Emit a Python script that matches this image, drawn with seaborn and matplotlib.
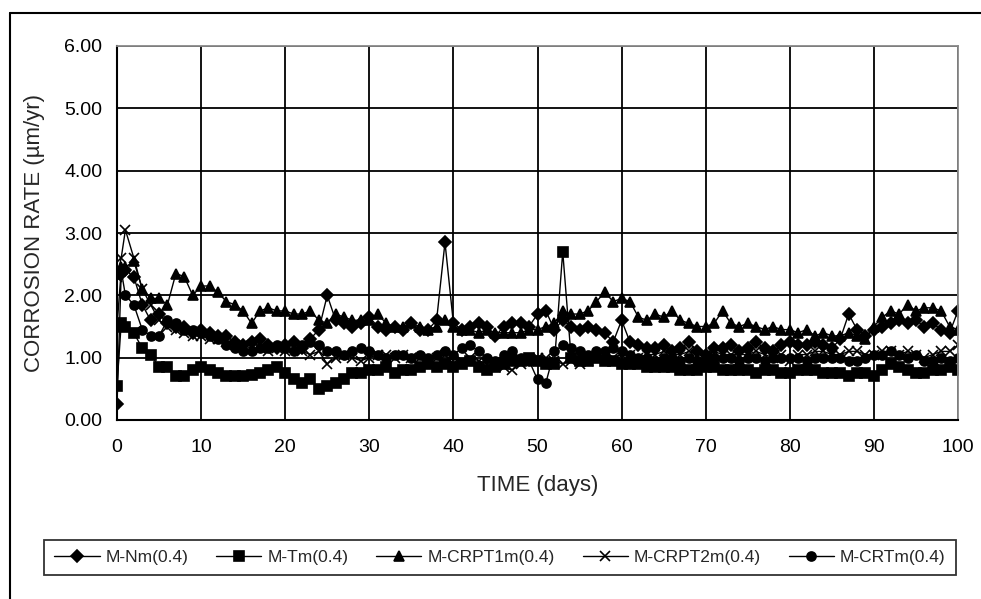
import matplotlib
matplotlib.use("Agg")
import matplotlib.pyplot as plt
import seaborn as sns
from matplotlib.lines import Line2D

# Dados (taxa de corrosão, µm/ano)
days = [0, 0.5] + list(range(1, 101))

m_nm = [0.25, 2.35, 2.40, 2.30, 1.85, 1.60, 1.70, 1.55, 1.50, 1.50, 1.40,
        1.45, 1.40, 1.35, 1.35, 1.25, 1.20, 1.25, 1.30, 1.20, 1.15,
        1.20, 1.25, 1.15, 1.30, 1.45, 2.00, 1.60, 1.55, 1.50, 1.55,
        1.65, 1.50, 1.45, 1.50, 1.45, 1.55, 1.45, 1.45, 1.60, 2.85,
        1.55, 1.45, 1.50, 1.55, 1.50, 1.35, 1.50, 1.55, 1.55, 1.50,
        1.70, 1.75, 1.45, 1.60, 1.50, 1.45, 1.50, 1.45, 1.40, 1.25,
        1.60, 1.25, 1.20, 1.15, 1.15, 1.20, 1.10, 1.15, 1.25, 1.10,
        1.05, 1.15, 1.15, 1.20, 1.10, 1.15, 1.25, 1.15, 1.10, 1.20,
        1.25, 1.20, 1.20, 1.25, 1.20, 1.15, 1.30, 1.70, 1.45, 1.35,
        1.45, 1.50, 1.55, 1.60, 1.55, 1.60, 1.50, 1.55, 1.45, 1.40,
        1.75]

m_tm = [0.55, 1.55, 1.50, 1.40, 1.15, 1.05, 0.85, 0.85, 0.70, 0.70, 0.80,
        0.85, 0.80, 0.75, 0.70, 0.70, 0.70, 0.72, 0.75, 0.80, 0.85,
        0.75, 0.65, 0.60, 0.65, 0.50, 0.55, 0.60, 0.65, 0.75, 0.75,
        0.80, 0.80, 0.85, 0.75, 0.80, 0.80, 0.85, 0.90, 0.85, 0.90,
        0.85, 0.90, 0.95, 0.85, 0.80, 0.85, 0.90, 0.95, 0.95, 1.00,
        0.95, 0.90, 0.90, 2.70, 1.00, 0.95, 0.95, 1.00, 0.95, 0.95,
        0.90, 0.90, 0.90, 0.85, 0.85, 0.85, 0.85, 0.80, 0.80, 0.80,
        0.85, 0.85, 0.80, 0.80, 0.80, 0.80, 0.75, 0.80, 0.80, 0.75,
        0.75, 0.80, 0.80, 0.80, 0.75, 0.75, 0.75, 0.70, 0.75, 0.75,
        0.70, 0.80, 0.90, 0.85, 0.80, 0.75, 0.75, 0.80, 0.80, 0.85,
        0.80]

m_crpt1 = [2.35, 2.45, 2.45, 2.55, 2.10, 1.95, 1.95, 1.85, 2.35, 2.30, 2.00,
           2.15, 2.15, 2.05, 1.90, 1.85, 1.75, 1.55, 1.75, 1.80, 1.75,
           1.75, 1.70, 1.70, 1.75, 1.60, 1.55, 1.70, 1.65, 1.60, 1.60,
           1.60, 1.70, 1.55, 1.50, 1.50, 1.55, 1.50, 1.45, 1.50, 1.60,
           1.50, 1.45, 1.45, 1.40, 1.45, 1.40, 1.40, 1.40, 1.40, 1.45,
           1.45, 1.50, 1.55, 1.75, 1.70, 1.70, 1.75, 1.90, 2.05, 1.90,
           1.95, 1.90, 1.65, 1.60, 1.70, 1.65, 1.75, 1.60, 1.55, 1.50,
           1.50, 1.55, 1.75, 1.55, 1.50, 1.55, 1.50, 1.45, 1.50, 1.45,
           1.45, 1.40, 1.45, 1.35, 1.40, 1.35, 1.35, 1.40, 1.35, 1.30,
           1.50, 1.65, 1.75, 1.70, 1.85, 1.75, 1.80, 1.80, 1.75, 1.50,
           1.45]

m_crpt2 = [2.30, 2.60, 3.05, 2.60, 2.10, 1.85, 1.60, 1.50, 1.45, 1.40, 1.35,
           1.35, 1.30, 1.30, 1.25, 1.20, 1.20, 1.15, 1.15, 1.10, 1.15,
           1.10, 1.15, 1.10, 1.05, 1.10, 0.90, 1.00, 1.05, 1.00, 0.95,
           1.00, 1.05, 1.05, 1.00, 1.05, 1.00, 1.00, 0.95, 1.00, 1.05,
           0.90, 0.95, 1.00, 0.95, 0.90, 0.90, 0.85, 0.80, 0.90, 0.95,
           1.00, 1.00, 0.95, 0.90, 0.95, 0.90, 0.95, 1.00, 1.05, 1.00,
           1.05, 1.05, 1.00, 1.05, 1.05, 1.10, 1.05, 1.05, 1.10, 1.05,
           1.05, 1.10, 1.05, 1.05, 1.05, 1.05, 1.10, 1.05, 1.00, 1.05,
           0.95, 1.05, 1.05, 1.10, 1.10, 1.05, 1.05, 1.10, 1.10, 1.05,
           1.05, 1.10, 1.10, 1.05, 1.10, 1.05, 1.00, 1.05, 1.10, 1.10,
           1.20]

m_crt = [1.50, 2.40, 2.00, 1.85, 1.45, 1.35, 1.35, 1.60, 1.55, 1.45, 1.45,
         1.40, 1.35, 1.30, 1.20, 1.15, 1.10, 1.10, 1.15, 1.15, 1.20,
         1.15, 1.10, 1.20, 1.25, 1.20, 1.10, 1.10, 1.05, 1.10, 1.15,
         1.10, 1.05, 1.00, 1.05, 1.05, 1.00, 1.05, 1.00, 1.05, 1.10,
         1.05, 1.15, 1.20, 1.10, 1.00, 0.95, 1.05, 1.10, 1.00, 0.95,
         0.65, 0.60, 1.10, 1.20, 1.15, 1.10, 1.05, 1.10, 1.10, 1.15,
         1.10, 1.05, 1.00, 1.00, 0.95, 1.00, 1.00, 0.95, 1.00, 0.95,
         0.95, 1.00, 1.00, 1.00, 0.95, 1.00, 1.00, 0.95, 1.00, 1.00,
         1.00, 1.00, 0.95, 1.00, 1.00, 1.00, 1.00, 0.95, 0.95, 1.00,
         1.05, 1.05, 1.10, 1.05, 1.00, 1.05, 0.95, 0.95, 1.00, 0.95,
         1.00]

series = [
    ("M-Nm(0.4)", m_nm, "D", 7),
    ("M-Tm(0.4)", m_tm, "s", 7.5),
    ("M-CRPT1m(0.4)", m_crpt1, "^", 8.5),
    ("M-CRPT2m(0.4)", m_crpt2, "x", 7),
    ("M-CRTm(0.4)", m_crt, "o", 8),
]

sns.set_style("white")
plt.rcParams["font.family"] = ["Liberation Sans", "DejaVu Sans"]

fig = plt.figure(figsize=(9.81, 5.99), dpi=100)
ax = fig.add_axes([117 / 981, 1 - 420 / 599, 841 / 981, 374 / 599])

for label, vals, mk, ms in series:
    sns.lineplot(x=days, y=vals, ax=ax, color="black", marker=mk, markersize=ms,
                 markeredgecolor="black", markerfacecolor="black",
                 markeredgewidth=1.2, linewidth=1.0, label=label,
                 estimator=None, sort=False)

ax.set_xlim(0, 100)
ax.set_ylim(0, 6)
ax.set_xticks(range(0, 101, 10))
ax.set_yticks(range(0, 7))
ax.set_yticklabels([f"{v:.2f}" for v in range(0, 7)])
ax.grid(True, color="black", linewidth=1.3)
ax.set_axisbelow(True)
for s in ["left", "bottom"]:
    ax.spines[s].set_color("black")
    ax.spines[s].set_linewidth(1.5)
for s in ["top", "right"]:
    ax.spines[s].set_color("#8a8a8a")
    ax.spines[s].set_linewidth(1.3)
ax.tick_params(axis="both", direction="out", length=4.5, width=1.3,
               colors="black", labelsize=14, pad=6)
ax.tick_params(axis="x", pad=9)
ax.set_xlabel("TIME (days)", fontsize=16, labelpad=14)
ax.set_ylabel("CORROSION RATE (µm/yr)", fontsize=16, labelpad=14)

ax.legend_.remove()
handles, labels = ax.get_legend_handles_labels()
for h in handles:
    h.set_markersize(6.5)
leg = fig.legend(handles, labels, loc="center", ncol=5,
                 bbox_to_anchor=(500 / 981, 1 - 557.5 / 599),
                 fontsize=12.5, frameon=True, fancybox=False,
                 edgecolor="black", handlelength=2.6, handletextpad=0.35,
                 columnspacing=1.6, borderpad=0.6)
leg.get_frame().set_linewidth(1.3)

# borda da área do gráfico
fig.add_artist(Line2D([10 / 981, 10 / 981], [0, 1 - 13 / 599], color="black",
                      linewidth=1.5, transform=fig.transFigure))
fig.add_artist(Line2D([10 / 981, 1], [1 - 13 / 599, 1 - 13 / 599], color="black",
                      linewidth=1.5, transform=fig.transFigure))

fig.savefig("out.png", dpi=100)
